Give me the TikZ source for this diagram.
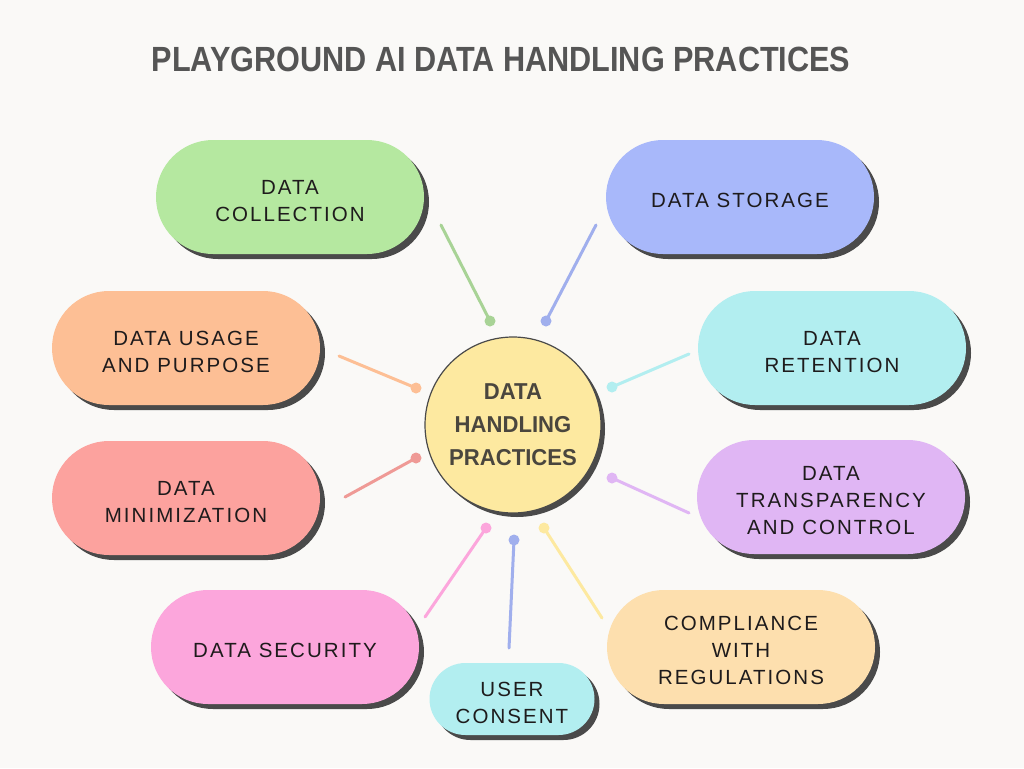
\documentclass[tikz,border=0pt]{standalone}
\usepackage{fontspec}
\usetikzlibrary{shapes.misc,shadows}
\newfontfamily\lblfont{Liberation Sans}[LetterSpace=10]
\newfontfamily\ttlfont{Liberation Sans}[UprightFont=* Bold, FakeStretch=0.875]
\newfontfamily\hubfont{Liberation Sans}[UprightFont=* Bold, FakeStretch=0.96]
\newcommand\upstrut{\rule{0pt}{22pt}}
\definecolor{bg}{HTML}{FAF9F7}
\definecolor{shad}{HTML}{4A4A4A}
\definecolor{ttl}{HTML}{555555}
\definecolor{lbl}{HTML}{1E1B1C}
\definecolor{hubtxt}{HTML}{4A463E}
\definecolor{cgreen}{HTML}{B5E8A0}
\definecolor{cblue}{HTML}{A8B8FA}
\definecolor{cpeach}{HTML}{FDBF95}
\definecolor{ccyan}{HTML}{B2EEF0}
\definecolor{csalmon}{HTML}{FCA29E}
\definecolor{clav}{HTML}{E0B6F4}
\definecolor{cpink}{HTML}{FCA6DC}
\definecolor{corange}{HTML}{FDDFAE}
\definecolor{cyellow}{HTML}{FDE9A0}
\tikzset{
  pill/.style={rounded rectangle, minimum width=268, minimum height=114, inner sep=0,
    fill=#1, align=center, text=lbl,
    font={\lblfont\fontsize{20.5}{27}\selectfont},
    drop shadow={shadow xshift=5pt, shadow yshift=-5pt, opacity=1, fill=shad}},
  conn/.style={line width=3, line cap=round, draw=#1},
  tipdot/.style={fill=#1}
}
\begin{document}
\begin{tikzpicture}[x=1pt,y=-1pt]
\useasboundingbox (0,0) rectangle (1024,768);
\fill[bg] (0,0) rectangle (1024,768);

\node[text=ttl, font={\ttlfont\fontsize{35}{40}\selectfont}] (title) at (501,59) {PLAYGROUND AI DATA HANDLING PRACTICES};

% hub
\node[circle, minimum size=176, inner sep=0, fill=cyellow, draw=shad, line width=1.2,
  drop shadow={shadow xshift=4pt, shadow yshift=-4pt, opacity=1, fill=shad},
  align=center, text=hubtxt, font={\hubfont\fontsize{23}{33}\selectfont}] (hub) at (513,425)
  {DATA\\HANDLING\\PRACTICES};

% pills
\node[pill=cgreen] (coll) at (290,197) {\upstrut DATA\\COLLECTION};
\node[pill=cblue] (stor) at (740,197) {\upstrut DATA STORAGE};
\node[pill=cpeach] (usage) at (186,348) {\upstrut DATA USAGE\\AND PURPOSE};
\node[pill=ccyan] (ret) at (832,348) {\upstrut DATA\\RETENTION};
\node[pill=csalmon] (mini) at (186,498) {\upstrut DATA\\MINIMIZATION};
\node[pill=clav] (trans) at (831,497) {\upstrut DATA\\TRANSPARENCY\\AND CONTROL};
\node[pill=cpink] (sec) at (285,647) {\upstrut DATA SECURITY};
\node[pill=corange] (comp) at (741,647) {\upstrut COMPLIANCE\\WITH\\REGULATIONS};
\node[pill=ccyan, minimum width=165, minimum height=72] (cons) at (512,699) {\upstrut USER\\CONSENT};

% connector end points
\coordinate (a1) at (441,225); \coordinate (b1) at (490,321);
\coordinate (a2) at (596,225); \coordinate (b2) at (546,321);
\coordinate (a3) at (339,356); \coordinate (b3) at (416,388);
\coordinate (a4) at (689,354); \coordinate (b4) at (612,387);
\coordinate (a5) at (345,497); \coordinate (b5) at (416,458);
\coordinate (a6) at (689,513); \coordinate (b6) at (612,478);
\coordinate (a7) at (425,617); \coordinate (b7) at (486,528);
\coordinate (a8) at (509,648); \coordinate (b8) at (514,540);
\coordinate (a9) at (602,618); \coordinate (b9) at (544,528);

\foreach \i/\c in {1/cgreen!90!black!95, 2/cblue!95!black, 3/cpeach, 4/ccyan, 5/csalmon!95!black, 6/clav, 7/cpink, 8/cblue!95!black, 9/cyellow}{
  \draw[conn=\c] (a\i) -- (b\i);
  \fill[tipdot=\c] (b\i) circle (5.5);
}
\end{tikzpicture}
\end{document}
